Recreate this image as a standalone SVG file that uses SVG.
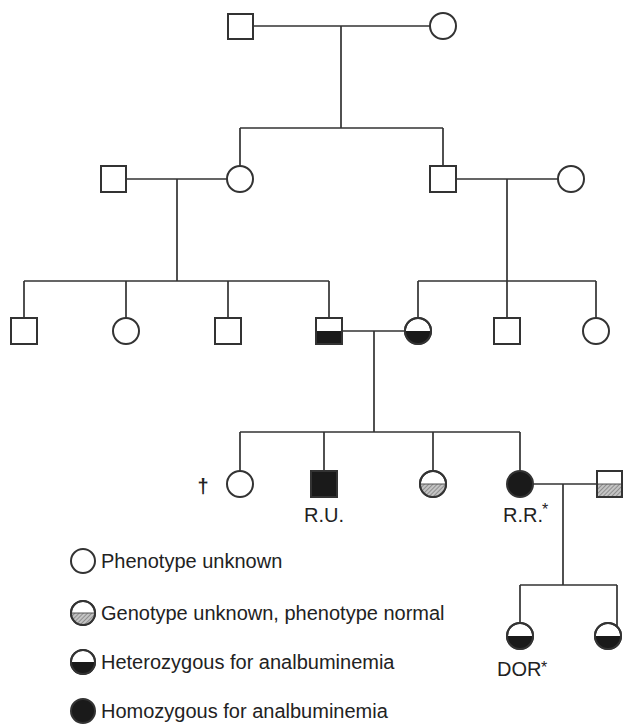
<svg xmlns="http://www.w3.org/2000/svg" width="623" height="726" viewBox="0 0 623 726">
<defs>
<pattern id="hatch" patternUnits="userSpaceOnUse" width="3" height="3" patternTransform="rotate(45)">
<rect width="3" height="3" fill="#c4c4c4"/>
<line x1="0" y1="0" x2="0" y2="3" stroke="#6a6a6a" stroke-width="1.2"/>
</pattern>
<style>
.ln{stroke:#333;stroke-width:1.7;fill:none}
.sym{stroke:#333;stroke-width:2;fill:#fff}
.blk{fill:#1a1a1a;stroke:none}
.hat{fill:url(#hatch);stroke:none}
.lbl{font-family:"Liberation Sans",Arial,sans-serif;font-size:20px;fill:#222}
.leg{font-family:"Liberation Sans",Arial,sans-serif;font-size:20px;fill:#222}
.sup{font-family:"Liberation Sans",Arial,sans-serif;font-size:16px;fill:#222}
</style>
</defs>
<rect width="623" height="726" fill="#fff"/>
<g id="connectors" class="ln">
<path d="M253,26H430M341,26V128M240,128H443M240,128V166M443,128V166"/>
<path d="M126,179H227M177,179V281M24,281H329M24,281V318M126,281V318M228,281V318M329,281V318"/>
<path d="M456,179H558M507,179V281M418,281H596M418,281V318M507,281V318M596,281V318"/>
<path d="M342,331H405M374,331V432M240,432H520M240,432V471M324,432V471M433,432V471M520,432V471"/>
<path d="M533,484H597M563,484V585M520,585H617M520,585V623M617,585V627"/>
</g>
<g id="I-1"><rect class="sym" x="228" y="14" width="25" height="25"/></g>
<g id="I-2"><circle class="sym" cx="443" cy="26" r="13"/></g>
<g id="II-1"><rect class="sym" x="101" y="166" width="25" height="26"/></g>
<g id="II-2"><circle class="sym" cx="240" cy="179" r="13"/></g>
<g id="II-3"><rect class="sym" x="430" y="166" width="26" height="26"/></g>
<g id="II-4"><circle class="sym" cx="571" cy="179" r="13"/></g>
<g id="III-1"><rect class="sym" x="11" y="318" width="26" height="26"/></g>
<g id="III-2"><circle class="sym" cx="126" cy="331" r="13"/></g>
<g id="III-3"><rect class="sym" x="215" y="318" width="26" height="26"/></g>
<g id="III-4"><rect class="sym" x="316" y="318" width="26" height="26"/><rect class="blk" x="316" y="331" width="26" height="13"/><rect x="316" y="318" width="26" height="26" fill="none" stroke="#333" stroke-width="2"/></g>
<g id="III-5"><circle class="sym" cx="418" cy="331" r="13"/><path class="blk" d="M405,331A13,13 0 0 0 431,331Z"/><circle cx="418" cy="331" r="13" fill="none" stroke="#333" stroke-width="2"/></g>
<g id="III-6"><rect class="sym" x="494" y="318" width="26" height="26"/></g>
<g id="III-7"><circle class="sym" cx="596" cy="331" r="13"/></g>
<g id="IV-1"><circle class="sym" cx="240" cy="484" r="13"/><text class="lbl" x="203" y="493" text-anchor="middle" font-weight="bold" font-size="23">†</text></g>
<g id="IV-2"><rect x="311" y="471" width="26" height="26" fill="#1a1a1a" stroke="#333" stroke-width="2"/><text class="lbl" x="324" y="522" text-anchor="middle">R.U.</text></g>
<g id="IV-3"><circle class="sym" cx="433" cy="484" r="13"/><path class="hat" d="M420,484A13,13 0 0 0 446,484Z"/><line x1="420" y1="484" x2="446" y2="484" stroke="#555" stroke-width="1"/><circle cx="433" cy="484" r="13" fill="none" stroke="#333" stroke-width="2"/></g>
<g id="IV-4"><circle cx="520" cy="484" r="13" fill="#1a1a1a" stroke="#333" stroke-width="2"/><text class="lbl" x="503" y="522">R.R.</text><text class="sup" x="542" y="515">*</text></g>
<g id="IV-5"><rect class="sym" x="597" y="471" width="25" height="26"/><rect class="hat" x="597" y="484" width="25" height="13"/><line x1="597" y1="484" x2="622" y2="484" stroke="#555" stroke-width="1"/><rect x="597" y="471" width="25" height="26" fill="none" stroke="#333" stroke-width="2"/></g>
<g id="V-1"><circle class="sym" cx="520" cy="636" r="13"/><path class="blk" d="M507,636A13,13 0 0 0 533,636Z"/><circle cx="520" cy="636" r="13" fill="none" stroke="#333" stroke-width="2"/><text class="lbl" x="497" y="676">DOR</text><text class="sup" x="541" y="673">*</text></g>
<g id="V-2"><circle class="sym" cx="608" cy="636" r="13"/><path class="blk" d="M595,636A13,13 0 0 0 621,636Z"/><circle cx="608" cy="636" r="13" fill="none" stroke="#333" stroke-width="2"/></g>
<g id="legend">
<circle class="sym" cx="83" cy="561" r="12"/>
<text class="leg" x="101" y="568">Phenotype unknown</text>
<circle class="sym" cx="83" cy="613" r="12"/><path class="hat" d="M71,613A12,12 0 0 0 95,613Z"/><line x1="71" y1="613" x2="95" y2="613" stroke="#555" stroke-width="1"/><circle cx="83" cy="613" r="12" fill="none" stroke="#333" stroke-width="2"/>
<text class="leg" x="101" y="620">Genotype unknown, phenotype normal</text>
<circle class="sym" cx="83" cy="662" r="12"/><path class="blk" d="M71,662A12,12 0 0 0 95,662Z"/><circle cx="83" cy="662" r="12" fill="none" stroke="#333" stroke-width="2"/>
<text class="leg" x="101" y="669">Heterozygous for analbuminemia</text>
<circle cx="83" cy="711" r="12" fill="#1a1a1a" stroke="#333" stroke-width="2"/>
<text class="leg" x="101" y="718">Homozygous for analbuminemia</text>
</g>
</svg>
